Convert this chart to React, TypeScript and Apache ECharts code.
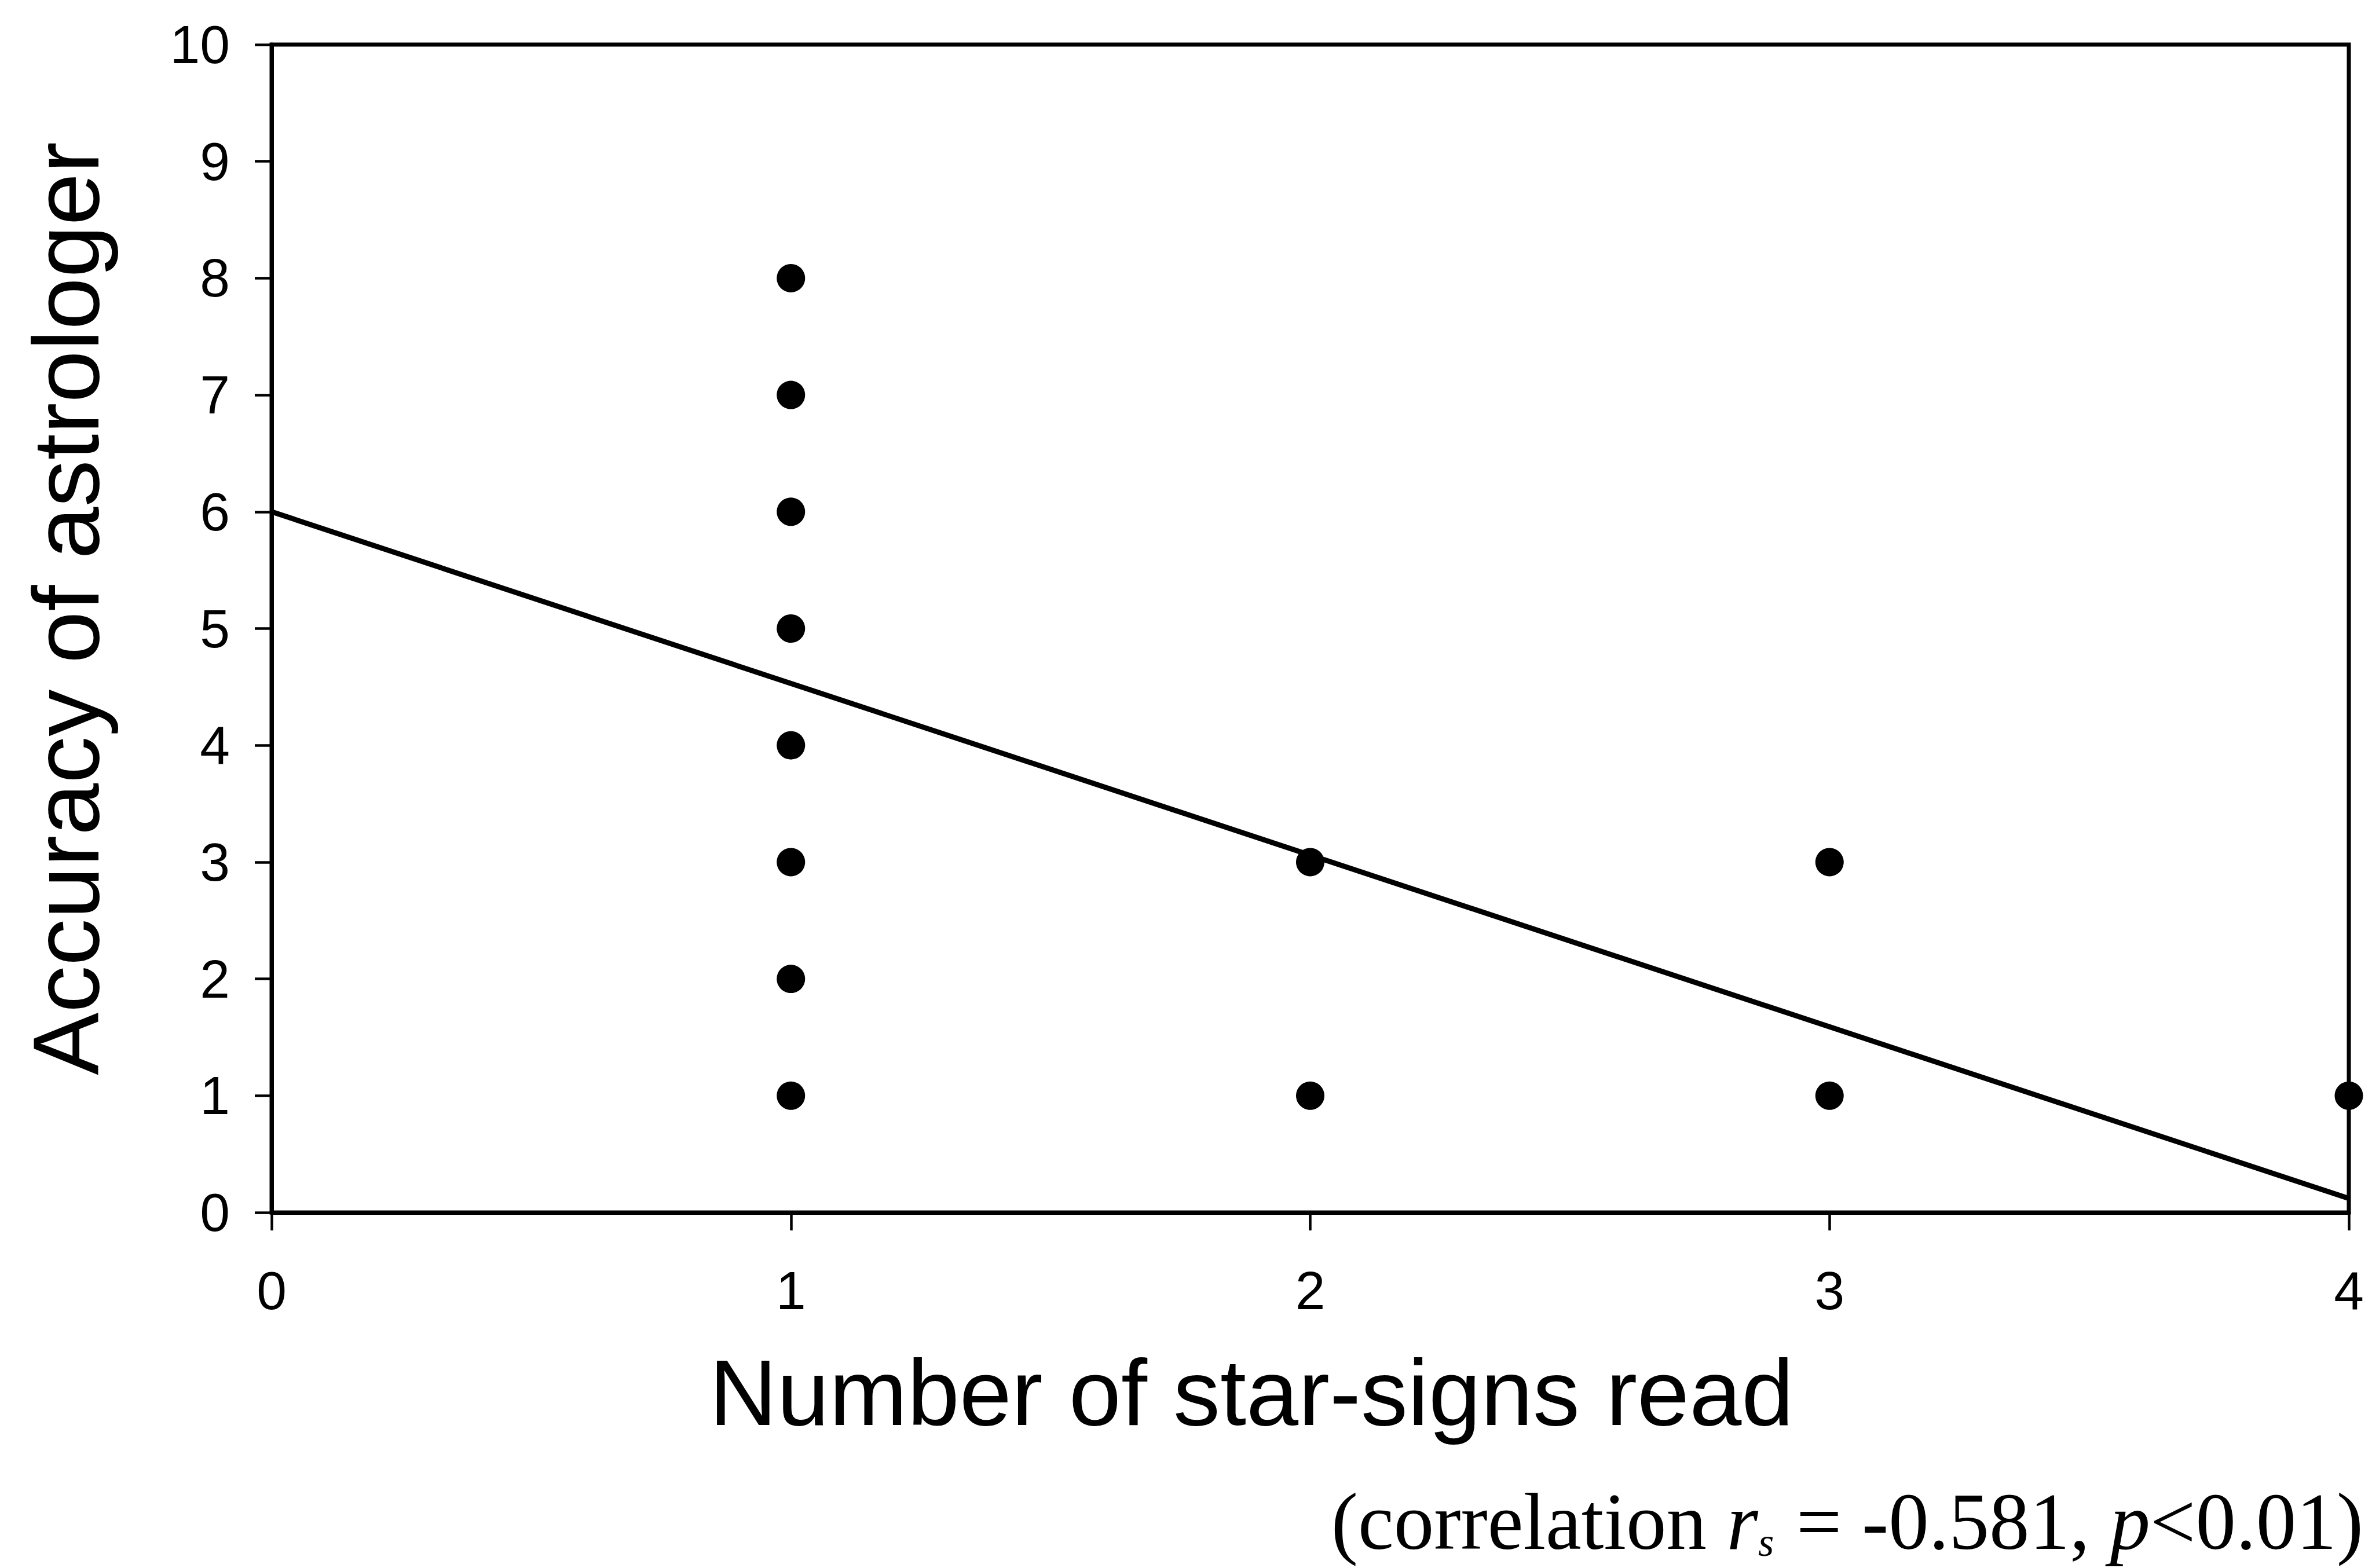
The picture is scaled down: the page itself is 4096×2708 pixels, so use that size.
import React, { useEffect, useRef } from "react";
import * as echarts from "echarts";

const xTicks = [0, 1, 2, 3, 4];
const yTicks = [0, 1, 2, 3, 4, 5, 6, 7, 8, 9, 10];
const pointsX = [1, 1, 1, 1, 1, 1, 1, 1, 2, 2, 3, 3, 4];
const pointsY = [8, 7, 6, 5, 4, 3, 2, 1, 3, 1, 3, 1, 1];
const trendX = [0, 4];
const trendY = [6.0, 0.12];
const xTitle = "Number of star-signs read";
const yTitle = "Accuracy of astrologer";

export default function App() {
  const ref = useRef<HTMLDivElement>(null);
  useEffect(() => {
    if (!ref.current) return;
    const chart = echarts.init(ref.current, null, { renderer: "svg" });
    const sans = "Liberation Sans, Arial, sans-serif";
    const serif = "Liberation Serif, Times New Roman, serif";
    chart.setOption({
      animation: false,
      backgroundColor: "#ffffff",
      grid: {
        left: 469,
        top: 77,
        width: 3587,
        height: 2017,
        show: true,
        borderColor: "#000",
        borderWidth: 7,
        backgroundColor: "transparent",
      },
      xAxis: {
        type: "value",
        min: xTicks[0],
        max: xTicks[xTicks.length - 1],
        interval: 1,
        axisLine: { show: true, lineStyle: { color: "#000", width: 7 } },
        axisTick: { show: true, length: 31, lineStyle: { color: "#000", width: 4.5 } },
        splitLine: { show: false },
        axisLabel: { color: "#000", fontFamily: sans, fontSize: 93, margin: 88 },
      },
      yAxis: {
        type: "value",
        min: yTicks[0],
        max: yTicks[yTicks.length - 1],
        interval: 1,
        axisLine: { show: true, lineStyle: { color: "#000", width: 7 } },
        axisTick: { show: true, length: 29, lineStyle: { color: "#000", width: 4.5 } },
        splitLine: { show: false },
        axisLabel: { color: "#000", fontFamily: sans, fontSize: 93, margin: 72 },
      },
      series: [
        {
          type: "line",
          data: trendX.map((x, i) => [x, trendY[i]]),
          showSymbol: false,
          symbol: "none",
          lineStyle: { color: "#000", width: 9 },
          clip: false,
          z: 2,
        },
        {
          type: "scatter",
          data: pointsX.map((x, i) => [x, pointsY[i]]),
          symbol: "circle",
          symbolSize: 49,
          itemStyle: { color: "#000", opacity: 1 },
          clip: false,
          z: 3,
        },
      ],
      graphic: [
        {
          type: "text",
          x: 113,
          y: 1051,
          rotation: Math.PI / 2,
          style: {
            text: yTitle,
            font: `162px ${sans}`,
            fill: "#000",
            textAlign: "center",
            textVerticalAlign: "middle",
          },
        },
        {
          type: "text",
          x: 2161,
          y: 2404,
          style: {
            text: xTitle,
            font: `162px ${sans}`,
            fill: "#000",
            textAlign: "center",
            textVerticalAlign: "middle",
          },
        },
        {
          type: "text",
          x: 4081,
          y: 2628,
          style: {
            text: "{n|(correlation }{i|r}{s|s}{n| = -0.581, }{i|p}{n|<0.01)}",
            fill: "#000",
            textAlign: "right",
            textVerticalAlign: "middle",
            rich: {
              n: { fontFamily: serif, fontSize: 139, lineHeight: 180, fill: "#000" },
              i: { fontFamily: serif, fontSize: 139, fontStyle: "italic", lineHeight: 180, fill: "#000" },
              s: {
                fontFamily: serif,
                fontSize: 70,
                fontStyle: "italic",
                lineHeight: 70,
                verticalAlign: "top",
                padding: [90, 4, 0, 0],
                fill: "#000",
              },
            },
          },
        },
      ],
    });
    return () => chart.dispose();
  }, []);
  return (
    <div
      ref={ref}
      style={{ position: "fixed", left: 0, top: 0, width: 4096, height: 2708, background: "#fff" }}
    />
  );
}
